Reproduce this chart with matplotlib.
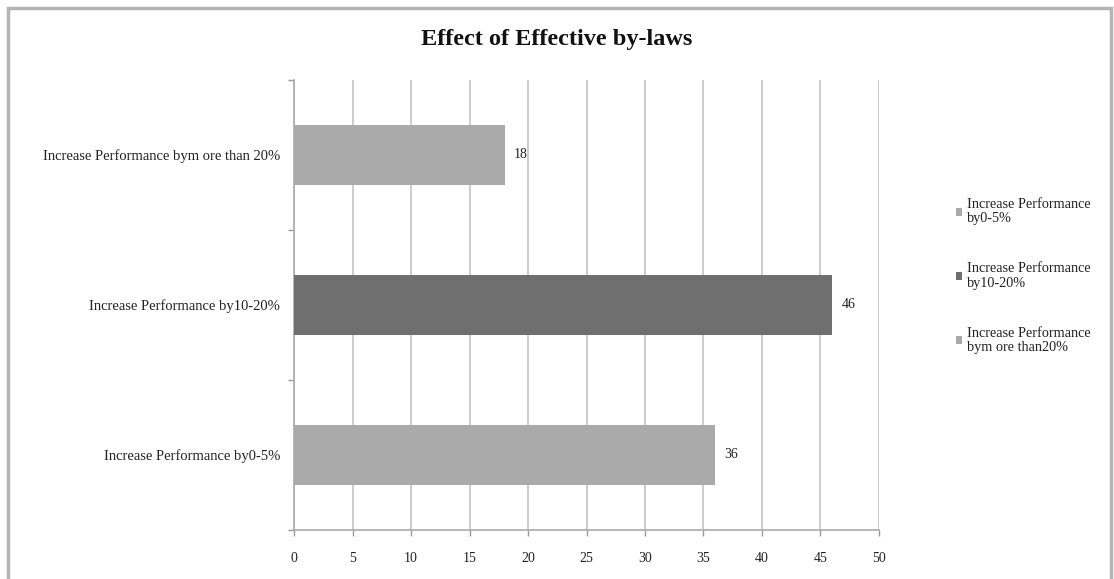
import matplotlib.pyplot as plt
from matplotlib.patches import Rectangle, Patch

# 資料
categories = ["Increase Performance by0-5%",
              "Increase Performance by10-20%",
              "Increase Performance bym ore than 20%"]
values = [36, 46, 18]
legend_labels = ["Increase Performance\nby0-5%",
                 "Increase Performance\nby10-20%",
                 "Increase Performance\nbym ore than20%"]
colors = ["#aaaaaa", "#6f6f6f", "#aaaaaa"]
xticks = list(range(0, 51, 5))

plt.rcParams['font.family'] = ['Liberation Serif', 'DejaVu Serif']

fig = plt.figure(figsize=(11.14, 5.79), dpi=100)
ax = fig.add_axes([294/1114, 1-530/579, 585/1114, 450/579])

ypos = list(range(len(categories)))
bars = ax.barh(ypos, values, height=0.4, color=colors, zorder=3)

# 數值標籤
for y, v in zip(ypos, values):
    ax.text(v + 0.8, y, str(v), va="center", ha="left", fontsize=10, color="#222222")

ax.set_xlim(0, 50)
ax.set_ylim(-0.5, 2.5)
ax.set_xticks(xticks)
ax.set_xticklabels([str(t) for t in xticks], fontsize=10, color="#222222")
ax.set_yticks([-0.5, 0.5, 1.5, 2.5])
ax.set_yticklabels([])
ax.set_yticks(ypos, minor=True)
ax.set_yticklabels(categories, minor=True, fontsize=10.5, color="#222222")
ax.tick_params(axis="y", which="minor", length=0, pad=10)
ax.tick_params(axis="y", which="major", length=4, color="#999999", width=1)
ax.tick_params(axis="x", length=4, color="#999999", width=1, pad=12)

ax.grid(axis="x", color="#c4c4c4", linewidth=1.2, zorder=0)
for s in ["top", "right"]:
    ax.spines[s].set_visible(False)
for s in ["left", "bottom"]:
    ax.spines[s].set_color("#aaaaaa")
    ax.spines[s].set_linewidth(1.2)

# 標題
fig.text(557/1114, 1-40/579, "Effect of Effective by-laws", ha="center", va="center",
         fontsize=17.5, fontweight="bold", color="#111111")

# 圖例
handles = [Patch(facecolor=c, edgecolor="none") for c in colors]
leg = fig.legend(handles, legend_labels, loc="center left", bbox_to_anchor=(943/1114, 1-276/579),
                 frameon=False, fontsize=10.3, handlelength=0.45, handleheight=0.45,
                 handletextpad=0.3, labelspacing=2.6, labelcolor="#222222")
for t in leg.get_texts():
    t.set_linespacing(1.1)

# 外框
fig.patches.append(Rectangle((8/1114, -0.1), 1103/1114, 1.1 - 8/579, transform=fig.transFigure,
                             fill=False, edgecolor="#b4b4b4", linewidth=2.5))

fig.savefig("out.png", dpi=100)
